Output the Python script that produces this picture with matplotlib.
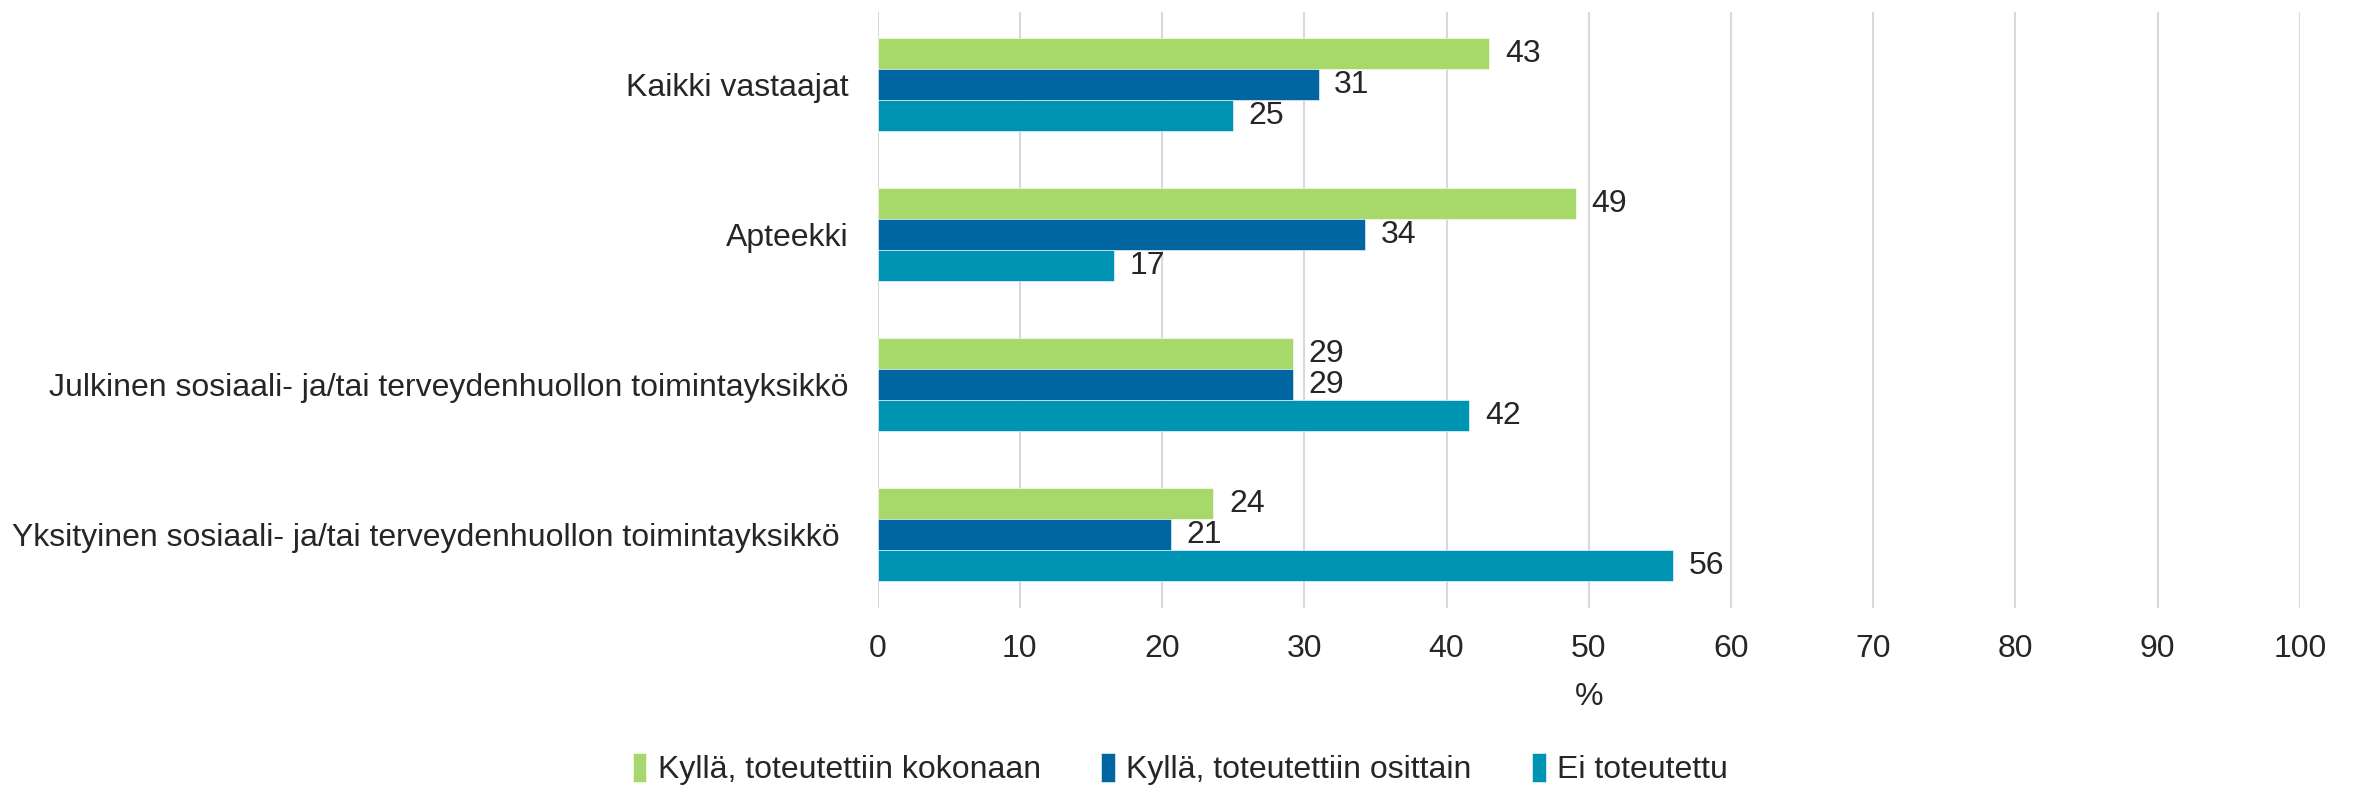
import numpy as np
import matplotlib.pyplot as plt

categories = [
    "Kaikki vastaajat",
    "Apteekki",
    "Julkinen sosiaali- ja/tai terveydenhuollon toimintayksikkö",
    "Yksityinen sosiaali- ja/tai terveydenhuollon toimintayksikkö ",
]
series_names = ["Kyllä, toteutettiin kokonaan", "Kyllä, toteutettiin osittain", "Ei toteutettu"]
kokonaan = [43.0, 49.1, 29.2, 23.6]
osittain = [31.0, 34.3, 29.2, 20.6]
ei = [25.0, 16.6, 41.6, 55.9]
colors = ["#a6d96a", "#0066a1", "#0094b4"]

plt.rcParams['font.family'] = ['Liberation Sans', 'DejaVu Sans']
fig = plt.figure(figsize=(23.56, 7.88), dpi=100)
ax = fig.add_axes([0.3725, 0.2284, 0.6037, 0.7564])

y = np.arange(len(categories))
h = 0.207
for i, (vals, name, c) in enumerate(zip([kokonaan, osittain, ei], series_names, colors)):
    pos = y + (i - 1) * h
    ax.barh(pos, vals, height=h, color=c, label=name, edgecolor='white', linewidth=0.4, zorder=3)
    for p, v in zip(pos, vals):
        ax.text(v + 1.1, p, f"{v:.0f}", va='center', ha='left', fontsize=23, color='#262626')

ax.set_xlim(0, 100)
ax.set_ylim(3.49, -0.485)
ax.set_xticks(range(0, 101, 10))
ax.set_yticks(y)
ax.set_yticklabels(categories)
ax.tick_params(axis='both', length=0, labelsize=23, colors='#262626')
ax.tick_params(axis='x', pad=19)
ax.tick_params(axis='y', pad=21)
ax.grid(axis='x', color='#d9d9d9', linewidth=1.5, zorder=0)
for s in ax.spines.values():
    s.set_visible(False)
ax.set_xlabel('%', fontsize=23, color='#262626', labelpad=13)

fig.legend(loc='center', bbox_to_anchor=(0.501, 0.024), ncol=3, frameon=False,
           fontsize=23, handlelength=0.42, handleheight=1.0, handletextpad=0.35,
           columnspacing=1.9, labelcolor='#262626')

plt.savefig('out.png', dpi=100)
plt.close()
